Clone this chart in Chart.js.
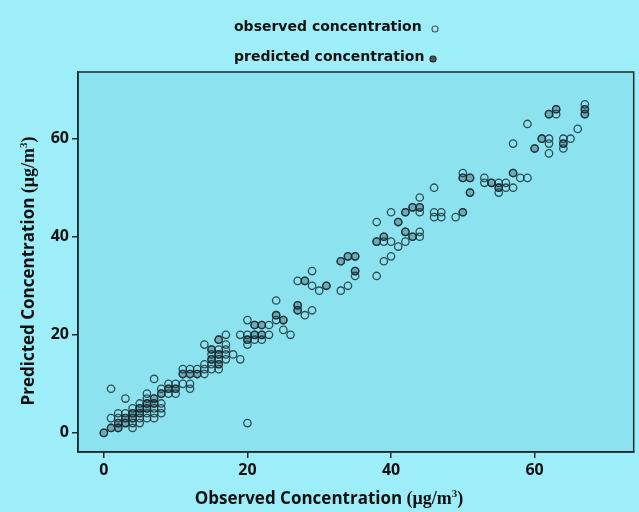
<!DOCTYPE html>
<html lang="en">
<head>
    <meta charset="UTF-8">
    <title>Observed vs Predicted Concentration</title>
    <script src="https://cdn.jsdelivr.net/npm/chart.js"></script>
    <style>
        html, body { margin: 0; padding: 0; background: #9eeefa; }
        #wrap { width: 639px; height: 512px; }
    </style>
</head>
<body>
<div id="wrap"><canvas id="concChart" width="639" height="512"></canvas></div>
<script>
    // all points (open circles): observed vs predicted, ug/m3
    var obsX = [67,67,67,63,63,62,59,66,57,61,62,62,62,60,64,64,64,65,
        50,50,51,51,53,53,54,55,55,55,56,56,57,57,58,59,
        46,44,40,42,43,44,44,46,46,47,47,49,50,38,41,
        42,43,44,44,38,39,39,40,41,42,39,40,38,
        33,34,35,35,35,
        29,27,28,29,30,31,33,34,
        24,27,27,28,29,24,24,25,23,25,26,
        20,21,22,19,20,21,22,23,20,20,21,22,
        17,16,14,17,17,17,17,
        15,16,15,16,15,16,15,16,15,16,
        18,19,11,12,13,14,11,12,13,14,14,
        20,1,3,7,
        0,1,2,2,2,3,3,3,4,4,4,4,4,5,5,5,5,5,6,6,6,6,6,6,7,7,7,7,7,8,8,8,8,8,9,9,9,10,10,10,11,12,12,1,2];
    var obsY = [67,66,65,66,65,65,63,62,59,60,60,59,57,58,60,59,58,60,
        53,52,52,49,52,51,51,51,50,49,51,50,53,50,52,52,
        50,48,45,45,46,46,45,45,44,45,44,44,45,43,43,
        41,40,41,40,39,40,39,39,38,39,35,36,32,
        35,36,36,33,32,
        33,31,31,30,29,30,29,30,
        27,26,25,24,25,24,23,23,22,21,20,
        23,22,22,20,20,20,20,20,19,18,19,19,
        20,19,18,18,17,16,15,
        17,17,16,16,15,15,14,14,13,13,
        16,15,13,13,13,13,12,12,12,12,14,
        2,9,7,11,
        0,1,1,2,3,2,3,4,1,2,3,4,5,2,3,4,5,6,3,4,5,6,7,8,3,4,5,6,7,4,5,6,8,9,8,9,10,8,9,10,10,9,10,3,4];

    // points that carry the grey filled marker
    var predX = [67,67,62,63,61,60,64,57,54,55,51,51,50,43,44,42,41,50,42,43,38,39,33,34,35,35,31,28,27,27,24,25,21,22,21,22,20,16,15,16,15,16,12,13,11,
        0,1,2,3,4,5,5,6,6,7,7,8,9,10,3,4,2];
    var predY = [66,65,65,66,60,58,59,53,51,50,52,49,52,46,46,45,43,45,41,40,39,40,35,36,36,33,30,31,26,25,24,23,22,22,20,20,19,19,17,16,15,14,12,12,12,
        0,1,2,3,4,4,5,5,6,6,7,8,9,9,2,3,1];

    var xTicks = [0, 20, 40, 60];
    var yTicks = [0, 20, 40, 60];
    var seriesNames = ['observed concentration', 'predicted concentration'];

    var ink = '#1b2a30';
    var outerBg = '#9eeefa';
    var plotBg = '#8de2ef';

    function toPoints(xs, ys) {
        return xs.map(function(x, i) { return {x: x, y: ys[i]}; });
    }

    // background, frame, legend and axis titles
    var decor = {
        id: 'decor',
        beforeDraw: function(chart) {
            var c = chart.ctx, a = chart.chartArea;
            c.save();
            c.fillStyle = outerBg;
            c.fillRect(0, 0, chart.width, chart.height);
            c.fillStyle = plotBg;
            c.fillRect(a.left, a.top, a.right - a.left, a.bottom - a.top);
            c.restore();
        },
        afterDraw: function(chart) {
            var c = chart.ctx, a = chart.chartArea;
            c.save();
            c.strokeStyle = ink;
            c.lineWidth = 1.5;
            c.strokeRect(a.left, a.top, a.right - a.left, a.bottom - a.top);

            // legend, marker on the right of the text
            c.fillStyle = '#111';
            c.font = 'bold 14px "DejaVu Sans"';
            c.textBaseline = 'middle';
            c.textAlign = 'left';
            c.fillText(seriesNames[0], 234, 27);
            c.fillText(seriesNames[1], 234, 57);
            c.lineWidth = 1.2;
            c.strokeStyle = '#555';
            c.beginPath(); c.arc(435, 29, 3, 0, Math.PI * 2); c.stroke();
            c.fillStyle = '#555';
            c.strokeStyle = '#222';
            c.beginPath(); c.arc(433, 59, 3, 0, Math.PI * 2); c.fill(); c.stroke();

            // axis titles: sans words + serif unit
            drawTitle(c, 'Observed Concentration ', '(\u03bcg/m', '3', ')', 329, 498, 0);
            drawTitle(c, 'Predicted Concentration ', '(\u03bcg/m', '3', ')', 28, 271, -Math.PI / 2);
            c.restore();
        }
    };

    function drawTitle(c, words, unit, sup, close, cx, cy, rot) {
        var f1 = 'bold 17px "Open Sans"', f2 = 'bold 18px "Liberation Serif"', f3 = 'bold 11px "Liberation Serif"';
        c.font = f1; var w1 = c.measureText(words).width;
        c.font = f2; var w2 = c.measureText(unit).width; var w4 = c.measureText(close).width;
        c.font = f3; var w3 = c.measureText(sup).width;
        var total = w1 + w2 + w3 + w4;
        c.save();
        c.translate(cx, cy);
        c.rotate(rot);
        c.fillStyle = '#111';
        c.textBaseline = 'alphabetic';
        c.textAlign = 'left';
        var x = -total / 2;
        c.font = f1; c.fillText(words, x, 6); x += w1;
        c.font = f2; c.fillText(unit, x, 6); x += w2;
        c.font = f3; c.fillText(sup, x, -1); x += w3;
        c.font = f2; c.fillText(close, x, 6);
        c.restore();
    }

    var ctx = document.getElementById('concChart').getContext('2d');
    var concChart = new Chart(ctx, {
        type: 'scatter',
        data: {
            datasets: [{
                label: seriesNames[0],
                data: toPoints(obsX, obsY),
                pointRadius: 3.7,
                pointBorderWidth: 1.3,
                borderColor: 'rgba(20, 40, 48, 0.8)',
                backgroundColor: 'rgba(0, 0, 0, 0)'
            }, {
                label: seriesNames[1],
                data: toPoints(predX, predY),
                pointRadius: 3.7,
                pointBorderWidth: 1.3,
                borderColor: 'rgba(20, 40, 48, 0.7)',
                backgroundColor: 'rgba(80, 115, 125, 0.5)'
            }]
        },
        options: {
            responsive: false,
            animation: false,
            layout: { padding: { top: 72, right: 3, left: 0, bottom: 0 } },
            plugins: { legend: { display: false }, tooltip: { enabled: false } },
            scales: {
                x: {
                    type: 'linear',
                    min: -3.6,
                    max: 73.8,
                    afterFit: function(s) { s.height = 60; s.paddingLeft = 0; s.paddingRight = 0; },
                    afterBuildTicks: function(s) { s.ticks = xTicks.map(function(v) { return {value: v}; }); },
                    border: { display: true, color: ink, width: 1.5 },
                    grid: { display: true, drawOnChartArea: false, drawTicks: true, tickLength: 6, color: ink, lineWidth: 1.5 },
                    ticks: { padding: 3, color: '#111', font: { family: 'Open Sans', size: 16, weight: 'bold' } }
                },
                y: {
                    type: 'linear',
                    min: -3.9,
                    max: 73.6,
                    afterFit: function(s) { s.width = 78; s.paddingTop = 0; s.paddingBottom = 0; },
                    afterBuildTicks: function(s) { s.ticks = yTicks.map(function(v) { return {value: v}; }); },
                    border: { display: true, color: ink, width: 1.5 },
                    grid: { display: true, drawOnChartArea: false, drawTicks: true, tickLength: 6, color: ink, lineWidth: 1.5 },
                    ticks: { padding: 3, color: '#111', font: { family: 'Open Sans', size: 16, weight: 'bold' } }
                }
            }
        },
        plugins: [decor]
    });
</script>
</body>
</html>
